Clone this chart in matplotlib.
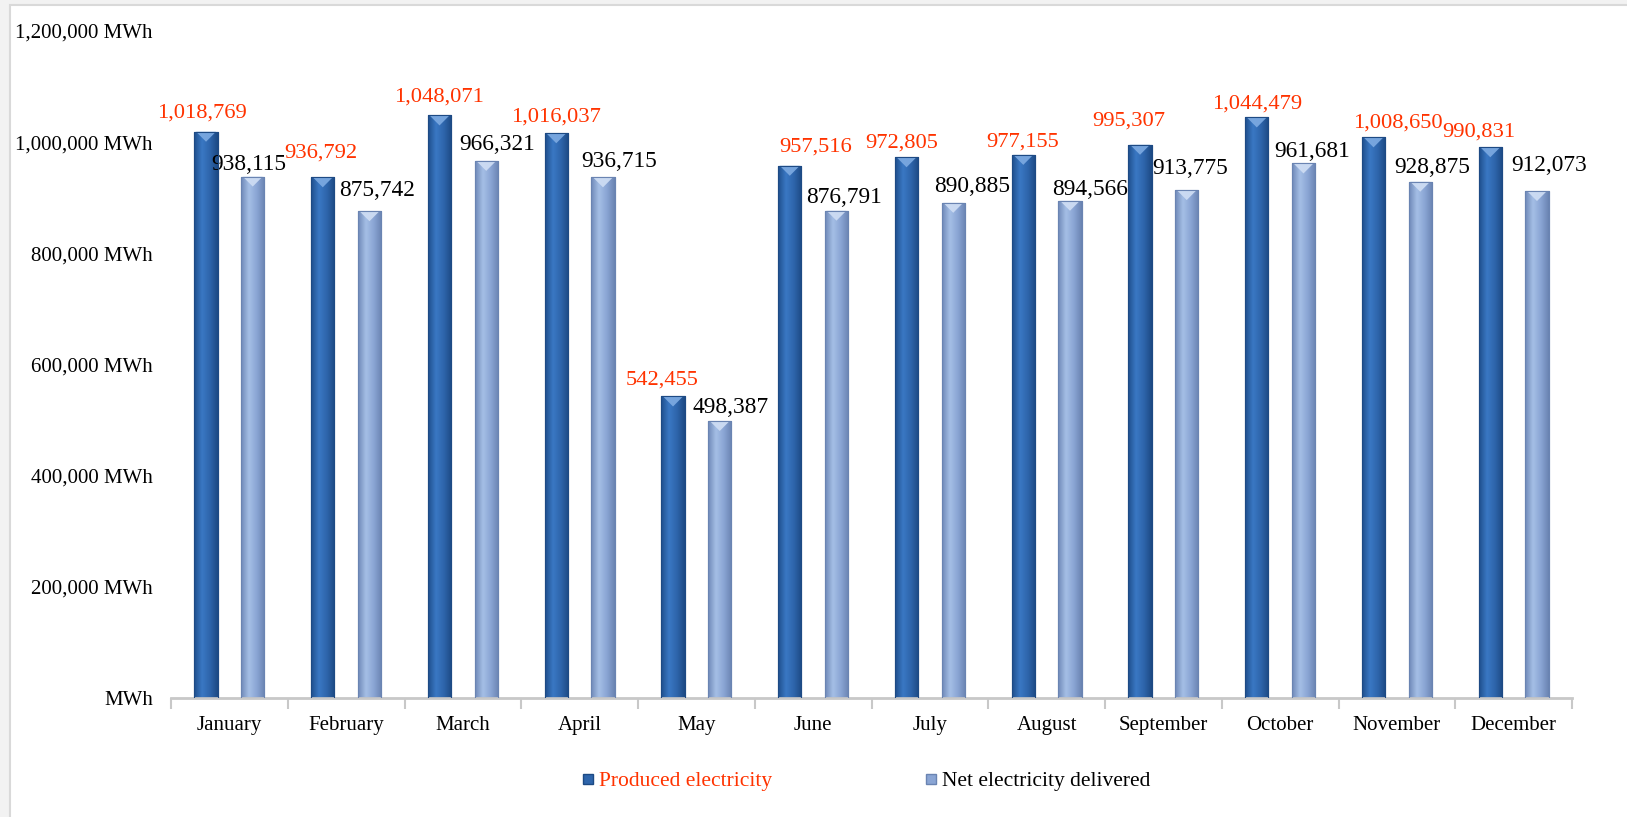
import numpy as np
import matplotlib
matplotlib.use("Agg")
import matplotlib.pyplot as plt
from matplotlib.patches import Rectangle, Polygon
from matplotlib.lines import Line2D
from matplotlib.colors import LinearSegmentedColormap

plt.rcParams['font.family'] = ['Liberation Serif', 'DejaVu Serif']

# data
months = ['January', 'February', 'March', 'April', 'May', 'June', 'July',
          'August', 'September', 'October', 'November', 'December']
produced = [1018769, 936792, 1048071, 1016037, 542455, 957516, 972805,
            977155, 995307, 1044479, 1008650, 990831]
net_delivered = [938115, 875742, 966321, 936715, 498387, 876791, 890885,
                 894566, 913775, 961681, 928875, 912073]
y_ticks = [0, 200000, 400000, 600000, 800000, 1000000, 1200000]
y_tick_labels = ['MWh', '200,000 MWh', '400,000 MWh', '600,000 MWh',
                 '800,000 MWh', '1,000,000 MWh', '1,200,000 MWh']

# the data labels were nudged by hand in the original (pixels, x / y above bar top)
produced_lbl_dx = [-4, -2, -1, 0, -11, 26, -5, -1, -11, 0, 24, -11]
produced_lbl_dy = [14, 20, 14, 12, 12, 14, 10, 8, 19, 9, 10, 11]
net_lbl_dx = [-4, 8, 11, 16, 11, 8, 19, 20, 3, 9, 12, 12]
net_lbl_dy = [7, 15, 11, 10, 8, 8, 11, 6, 16, 6, 9, 20]

RED = '#ff3300'
# edge, highlight, body, shadow, bevel cap
DARK = ['#1f4f8c', '#3a78c4', '#2e65ab', '#1d4a84', '#7aa8e0']
LIGHT = ['#6f89b8', '#a5bfe6', '#8aa5d4', '#6a84b2', '#cddcf3']

fig = plt.figure(figsize=(16.27, 8.17), dpi=100)
fig.patch.set_facecolor('#f2f2f2')
fig.add_artist(Rectangle((10 / 1627, -0.01), 1.0, 1 - 5 / 817 + 0.01,
                         transform=fig.transFigure, facecolor='white',
                         edgecolor='#d9d9d9', linewidth=1.5, zorder=0))

ax = fig.add_axes([171 / 1627, 1 - 698 / 817, (1572 - 171) / 1627, (698 - 31) / 817])
ax.set_facecolor('none')

x = np.arange(len(months))
w = 0.2
bars1 = ax.bar(x - 0.2, produced, w, color=DARK[2], edgecolor='#254f86', linewidth=0.8, zorder=2)
bars2 = ax.bar(x + 0.2, net_delivered, w, color=LIGHT[2], edgecolor='#6d85b0', linewidth=0.8, zorder=2)

ax.set_xlim(-0.5, len(months) - 0.5)
ax.set_ylim(0, 1200000)

# fake the 3D cylinder look with a horizontal gradient and a bevel on top
cap_h = 1200000 / 667 * 10
for bars, cols in [(bars1, DARK), (bars2, LIGHT)]:
    cmap = LinearSegmentedColormap.from_list('g', cols[:4])
    grad = np.linspace(0, 1, 64).reshape(1, -1)
    for b in bars:
        x0, h, bw = b.get_x(), b.get_height(), b.get_width()
        im = ax.imshow(grad, cmap=cmap, aspect='auto', extent=(x0, x0 + bw, 0, h),
                       zorder=2.5, interpolation='bicubic')
        im.set_clip_path(b)
        tri = Polygon([(x0 + 0.015, h), (x0 + bw - 0.015, h), (x0 + bw / 2, h - cap_h)],
                      closed=True, facecolor=cols[4], edgecolor='none', alpha=0.95, zorder=3)
        ax.add_patch(tri)
        ax.add_patch(Rectangle((x0, 0), bw, h, facecolor='none',
                               edgecolor=cols[3], linewidth=0.8, zorder=3.5))
ax.set_xlim(-0.5, len(months) - 0.5)
ax.set_ylim(0, 1200000)

for b, v, dx, dy in zip(bars1, produced, produced_lbl_dx, produced_lbl_dy):
    ax.annotate(f'{v:,}', (b.get_x() + b.get_width() / 2, v), xytext=(dx, dy),
                textcoords='offset pixels', ha='center', va='baseline',
                color=RED, fontsize=16.2)
for b, v, dx, dy in zip(bars2, net_delivered, net_lbl_dx, net_lbl_dy):
    ax.annotate(f'{v:,}', (b.get_x() + b.get_width() / 2, v), xytext=(dx, dy),
                textcoords='offset pixels', ha='center', va='baseline',
                color='black', fontsize=16.8)

ax.set_yticks(y_ticks)
ax.set_yticklabels(y_tick_labels, fontsize=15)
ax.tick_params(axis='y', length=0, pad=13)
ax.set_xticks(x)
ax.set_xticklabels(months, fontsize=15)
ax.set_xticks(np.arange(-0.5, len(months)), minor=True)
ax.tick_params(axis='x', which='major', length=0, pad=13)
ax.tick_params(axis='x', which='minor', length=8, width=1.5, color='#c8c8c8', direction='out')

for s in ['top', 'right', 'left']:
    ax.spines[s].set_visible(False)
ax.spines['bottom'].set_color('#c8c8c8')
ax.spines['bottom'].set_linewidth(2)

handles = [Line2D([], [], marker='s', linestyle='none', markersize=7,
                  markerfacecolor=DARK[2], markeredgecolor='#1d4a84'),
           Line2D([], [], marker='s', linestyle='none', markersize=7,
                  markerfacecolor=LIGHT[2], markeredgecolor='#6a84b2')]
leg = fig.legend(handles, ['Produced electricity', 'Net electricity delivered'],
                 loc='center left', bbox_to_anchor=(560 / 1627, 1 - 781 / 817),
                 ncol=2, frameon=False, fontsize=15.5, handletextpad=0.1,
                 handlelength=0.8, columnspacing=7.0)
leg.get_texts()[0].set_color(RED)

fig.savefig('out.png', dpi=100, facecolor=fig.get_facecolor())
